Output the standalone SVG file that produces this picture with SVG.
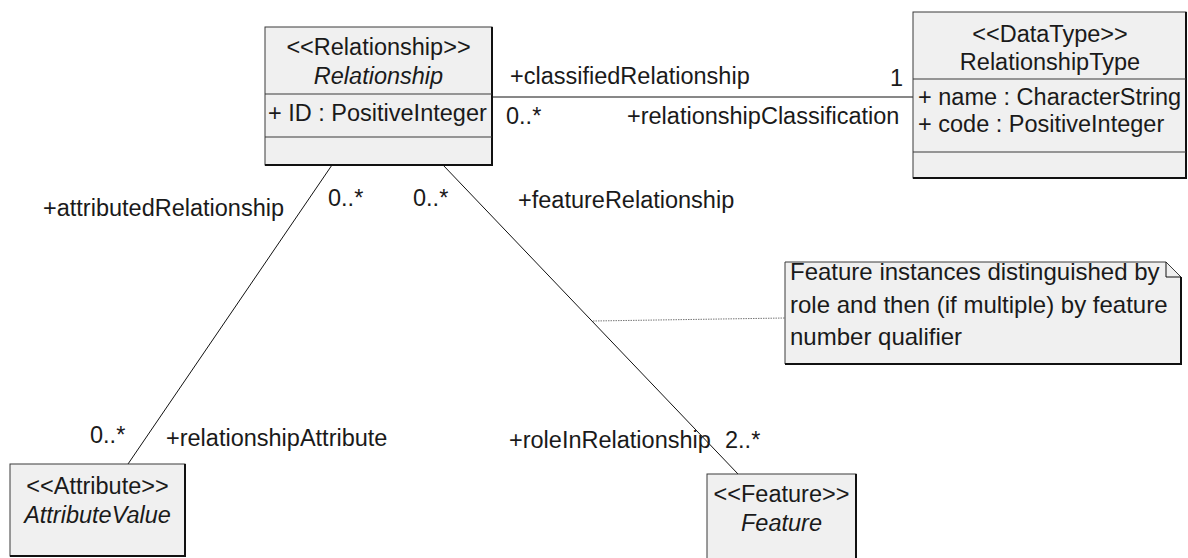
<svg xmlns="http://www.w3.org/2000/svg" width="1188" height="558" viewBox="0 0 1188 558">
<style>
text{font-family:"Liberation Sans",Arial,sans-serif;font-size:23.5px;fill:#1a1a1a}
.c{text-anchor:middle}
.i{font-style:italic}
.n{font-size:24px}
.box{fill:#f0f0f0;stroke:#3a3a3a;stroke-width:1}
.sh{stroke:#111;stroke-width:2;fill:none}
.div{stroke:#3a3a3a;stroke-width:1.2}
.ln{stroke:#111;stroke-width:1;fill:none}
.dot{stroke:#777;stroke-width:1;stroke-dasharray:1.5 1;fill:none}
</style>
<rect width="1188" height="558" fill="#fff"/>
<g id="connectors">
<line class="ln" x1="492" y1="97" x2="913" y2="97"/>
<line class="ln" x1="332" y1="165" x2="128" y2="464"/>
<line class="ln" x1="443" y1="165" x2="738" y2="474"/>
<line class="dot" x1="593" y1="321" x2="785" y2="318"/>
<text x="510" y="84">+classifiedRelationship</text>
<text x="890" y="86">1</text>
<text x="506" y="124">0..*</text>
<text x="627" y="124">+relationshipClassification</text>
<text x="43" y="216">+attributedRelationship</text>
<text x="328" y="206">0..*</text>
<text x="413" y="206">0..*</text>
<text x="518" y="208">+featureRelationship</text>
<text x="90" y="443">0..*</text>
<text x="166" y="446">+relationshipAttribute</text>
<text x="509" y="448">+roleInRelationship</text>
<text x="725" y="448">2..*</text>
</g>
<g id="Relationship">
<rect class="box" x="265" y="27" width="227" height="138"/>
<path class="sh" d="M492 27V165H265"/>
<line class="div" x1="265" y1="94" x2="492" y2="94"/>
<line class="div" x1="265" y1="137" x2="492" y2="137"/>
<text class="c" x="378.5" y="55">&lt;&lt;Relationship&gt;&gt;</text>
<text class="c i" x="378.5" y="84">Relationship</text>
<text x="268" y="121">+ ID : PositiveInteger</text>
</g>
<g id="RelationshipType">
<rect class="box" x="913" y="12" width="273" height="166"/>
<path class="sh" d="M1186 12V178H913"/>
<line class="div" x1="913" y1="79" x2="1186" y2="79"/>
<line class="div" x1="913" y1="152" x2="1186" y2="152"/>
<text class="c" x="1050" y="42">&lt;&lt;DataType&gt;&gt;</text>
<text class="c" x="1050" y="70">RelationshipType</text>
<text x="918" y="105">+ name : CharacterString</text>
<text x="918" y="132">+ code : PositiveInteger</text>
</g>
<g id="AttributeValue">
<rect class="box" x="10" y="464" width="175" height="92"/>
<path class="sh" d="M185 464V556H10"/>
<text class="c" x="97.5" y="494">&lt;&lt;Attribute&gt;&gt;</text>
<text class="c i" x="97.5" y="523">AttributeValue</text>
</g>
<g id="Feature">
<rect class="box" x="707" y="474" width="149" height="90"/>
<path class="sh" d="M856 474V564"/>
<text class="c" x="781.5" y="502">&lt;&lt;Feature&gt;&gt;</text>
<text class="c i" x="781.5" y="531">Feature</text>
</g>
<g id="note">
<path class="box" d="M785 262H1166L1181 277V364H785Z"/>
<path class="sh" d="M1181 277V364H785"/>
<path class="ln" d="M1166 262V277H1181" stroke="#3a3a3a"/>
<text class="n" x="790" y="280">Feature instances distinguished by</text>
<text class="n" x="790" y="313">role and then (if multiple) by feature</text>
<text class="n" x="790" y="345">number qualifier</text>
</g>
</svg>
